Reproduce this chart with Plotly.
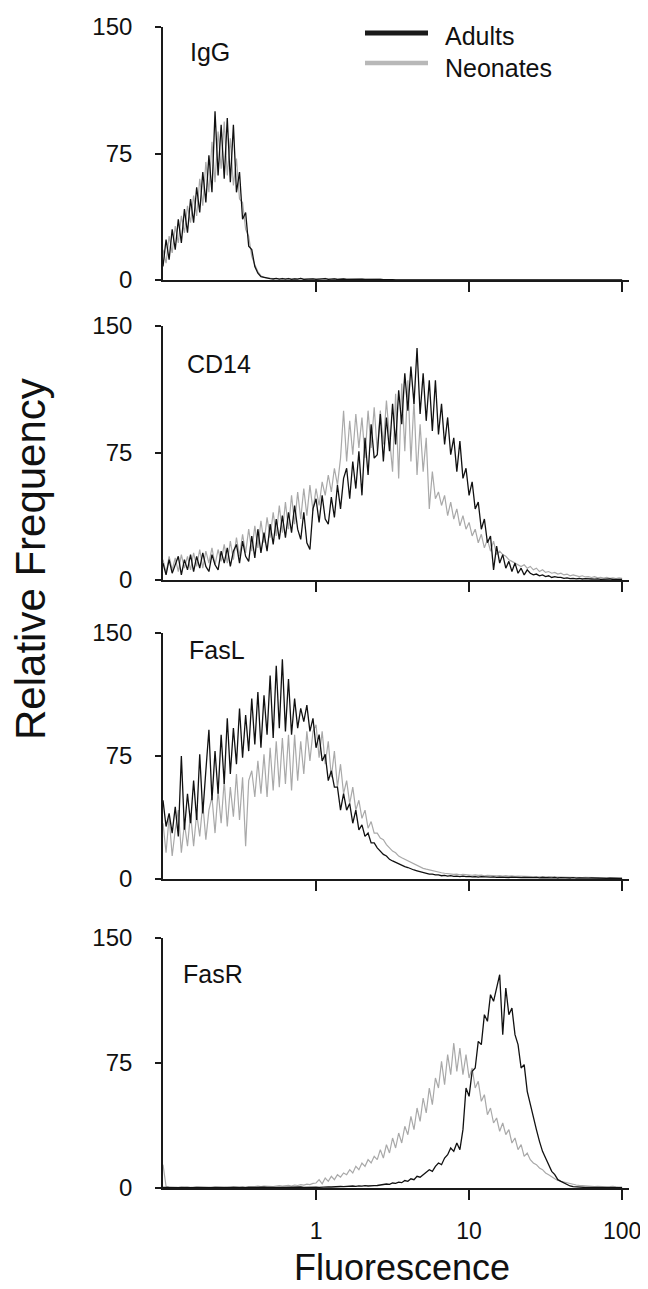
import numpy as np
import plotly.graph_objects as go

# ---------------- data ----------------
# channel grid (log10 of fluorescence), 151 channels from 0.1 to 100
log_channel = np.round(-1 + 0.02 * np.arange(151), 2)
fluorescence = 10 ** log_channel

panel_names = ["IgG", "CD14", "FasL", "FasR"]
series_names = ["Adults", "Neonates"]
y_tick_vals = [0, 75, 150]
y_tick_text = ["0", "75", "150"]
x_tick_vals = [1, 10, 100]
x_tick_text = ["1", "10", "100"]

igg_adults = [
    8, 24, 12, 30, 18, 36, 22, 42, 28, 48,
    34, 55, 40, 64, 46, 74, 52, 100, 62, 92,
    60, 96, 58, 92, 52, 64, 36, 40, 20, 18,
    8, 4, 2, 1.5, 1, 0.8, 0.6, 1, 0.5, 0.8,
    0.5, 0.8, 0.4, 0.7, 0.5, 0.9, 0.4, 0.6, 0.5, 0.7,
    0.4, 0.6, 0.5, 0.8, 0.4, 0.5, 0.7, 0.3, 0.5, 0.6,
    0.4, 0.5, 0.3, 0.6, 0.4, 0.5, 0.3, 0.4, 0.3, 0.5,
    0.3, 0.4, 0.2, 0.3, 0.2, 0.2, 0.1, 0.1, 0, 0,
    0, 0, 0, 0, 0, 0, 0, 0, 0, 0,
    0, 0, 0, 0, 0, 0, 0, 0, 0, 0,
    0, 0, 0, 0, 0, 0, 0, 0, 0, 0,
    0, 0, 0, 0, 0, 0, 0, 0, 0, 0,
    0, 0, 0, 0, 0, 0, 0, 0, 0, 0,
    0, 0, 0, 0, 0, 0, 0, 0, 0, 0,
    0, 0, 0, 0, 0, 0, 0, 0, 0, 0,
    0,
]
igg_neonates = [
    18, 10, 26, 16, 32, 22, 38, 28, 44, 34,
    50, 38, 60, 44, 70, 52, 82, 58, 88, 66,
    94, 62, 84, 56, 72, 48, 46, 30, 26, 14,
    9, 5, 2.5, 1.5, 1.2, 1, 0.8, 1, 0.6, 0.9,
    0.6, 0.9, 0.5, 0.8, 0.6, 1, 0.5, 0.7, 0.6, 0.8,
    0.5, 0.7, 0.6, 0.9, 0.5, 0.6, 0.8, 0.4, 0.6, 0.7,
    0.5, 0.6, 0.4, 0.7, 0.5, 0.6, 0.4, 0.5, 0.4, 0.6,
    0.4, 0.5, 0.3, 0.4, 0.3, 0.3, 0.2, 0.2, 0.1, 0.1,
    0, 0, 0, 0, 0, 0, 0, 0, 0, 0,
    0, 0, 0, 0, 0, 0, 0, 0, 0, 0,
    0, 0, 0, 0, 0, 0, 0, 0, 0, 0,
    0, 0, 0, 0, 0, 0, 0, 0, 0, 0,
    0, 0, 0, 0, 0, 0, 0, 0, 0, 0,
    0, 0, 0, 0, 0, 0, 0, 0, 0, 0,
    0, 0, 0, 0, 0, 0, 0, 0, 0, 0,
    0,
]
cd14_adults = [
    10, 3, 12, 4, 9, 14, 3, 12, 6, 15,
    5, 14, 7, 16, 8, 5, 15, 9, 6, 17,
    10, 19, 8, 17, 21, 10, 23, 14, 11, 26,
    13, 30, 16, 28, 17, 33, 21, 36, 24, 38,
    25, 40, 28, 44, 30, 24, 40, 22, 18, 42,
    48, 34, 50, 36, 33, 49, 37, 56, 42, 60,
    66, 48, 70, 54, 76, 50, 84, 62, 92, 72,
    74, 98, 70, 96, 76, 104, 80, 112, 92, 122,
    100, 126, 104, 137, 98, 122, 94, 118, 88, 118,
    86, 104, 80, 96, 74, 84, 64, 82, 60, 66,
    50, 58, 42, 46, 30, 36, 22, 26, 6, 20,
    10, 15, 7, 11, 5, 10, 4, 7, 3, 6,
    4, 3, 3.5, 2.5, 3, 2, 2.5, 1.5, 2, 1.5,
    1.5, 1, 1.2, 0.8, 1, 0.7, 0.9, 0.6, 0.8, 0.5,
    0.6, 0.5, 0.7, 0.4, 0.5, 0.4, 0.6, 0.3, 0.5, 0.4,
    0.3,
]
cd14_neonates = [
    12, 4, 14, 6, 13, 5, 15, 7, 14, 6,
    16, 8, 18, 7, 17, 10, 19, 9, 18, 11,
    21, 10, 23, 12, 25, 14, 27, 16, 30, 17,
    32, 19, 35, 22, 37, 25, 40, 26, 44, 28,
    46, 30, 50, 33, 52, 36, 54, 38, 56, 41,
    54, 44, 58, 50, 62, 52, 66, 56, 72, 100,
    70, 94, 74, 98, 78, 96, 72, 100, 78, 102,
    76, 100, 80, 106, 84, 64, 110, 60, 116, 76,
    118, 70, 106, 62, 92, 64, 84, 42, 64, 48,
    52, 44, 50, 38, 46, 36, 42, 32, 38, 30,
    34, 26, 30, 22, 27, 19, 24, 17, 23, 15,
    17, 15, 14, 12, 11, 10, 9, 8, 9, 7,
    8, 6, 7, 5, 6, 4.5, 5, 4, 4.5, 3.5,
    4, 3, 3.5, 2.5, 3, 2.5, 2, 2.5, 1.8, 2,
    1.5, 2, 1.3, 1.6, 1.2, 1.5, 1, 1.3, 0.9, 1.2,
    1,
]
fasl_adults = [
    48, 32, 40, 28, 44, 26, 75, 30, 52, 34,
    60, 36, 76, 40, 66, 91, 48, 78, 52, 88,
    58, 98, 64, 92, 70, 104, 74, 100, 78, 110,
    82, 114, 80, 112, 88, 124, 86, 130, 92, 134,
    90, 122, 88, 110, 92, 104, 96, 106, 90, 98,
    80, 88, 72, 76, 60, 66, 56, 56, 42, 52,
    42, 46, 34, 42, 30, 33, 26, 28, 22, 22,
    19, 17, 15, 14, 12, 11, 10, 9, 8, 7.5,
    7, 6, 5.5, 5, 4.5, 4, 3.5, 3, 3, 2.5,
    2.5, 2, 2.2, 1.8, 2, 1.6, 1.8, 1.5, 1.7, 1.4,
    1.6, 1.3, 1.5, 1.2, 1.4, 1.2, 1.3, 1.1, 1.3, 1,
    1.2, 1, 1.1, 0.9, 1.1, 0.9, 1, 0.8, 1, 0.8,
    0.9, 0.8, 1, 0.7, 0.9, 0.7, 0.8, 0.7, 0.9, 0.6,
    0.8, 0.6, 0.7, 0.6, 0.8, 0.5, 0.7, 0.5, 0.6, 0.5,
    0.6, 0.5, 0.6, 0.4, 0.5, 0.4, 0.5, 0.4, 0.5, 0.4,
    0.4,
]
fasl_neonates = [
    34, 16, 38, 14, 30, 42, 16, 34, 20, 40,
    20, 40, 26, 46, 24, 42, 50, 28, 54, 34,
    60, 32, 56, 38, 64, 36, 62, 20, 60, 66,
    50, 72, 52, 76, 50, 80, 54, 84, 56, 86,
    58, 88, 54, 88, 60, 84, 64, 90, 72, 90,
    94, 74, 90, 70, 84, 62, 78, 56, 70, 52,
    60, 46, 56, 42, 48, 37, 42, 31, 35, 28,
    28, 25, 24, 21, 19, 17, 16, 14, 13, 12,
    11, 10, 9, 8, 7.5, 6.5, 6, 5.5, 5, 4.5,
    4, 3.8, 3.5, 3.2, 3, 2.8, 3, 2.6, 2.8, 2.5,
    2.6, 2.3, 2.5, 2.2, 2.4, 2, 2.3, 2.1, 2.2, 1.9,
    2.1, 1.8, 2, 1.7, 1.9, 1.6, 1.8, 1.7, 1.6, 1.5,
    1.6, 1.4, 1.5, 1.3, 1.5, 1.2, 1.4, 1.2, 1.3, 1.1,
    1.2, 1.1, 1.2, 1, 1.1, 0.9, 1, 0.9, 1, 0.8,
    0.9, 0.8, 0.9, 0.7, 0.8, 0.7, 0.8, 0.6, 0.7, 0.6,
    0.6,
]
fasr_adults = [
    0.3, 0.2, 0.3, 0.2, 0.3, 0.2, 0.3, 0.2, 0.3, 0.2,
    0.2, 0.3, 0.2, 0.3, 0.2, 0.3, 0.2, 0.3, 0.2, 0.3,
    0.3, 0.2, 0.4, 0.3, 0.2, 0.4, 0.3, 0.2, 0.3, 0.4,
    0.3, 0.4, 0.3, 0.5, 0.3, 0.4, 0.3, 0.5, 0.4, 0.3,
    0.4, 0.5, 0.3, 0.5, 0.4, 0.6, 0.4, 0.5, 0.4, 0.6,
    0.5, 0.4, 0.6, 0.5, 0.7, 0.6, 0.8, 0.7, 0.9, 0.8,
    1, 0.9, 1.2, 1, 1.3, 1.1, 1.4, 1.2, 1.5, 1.4,
    1.5, 1.8, 2, 2.4, 2.2, 3, 2.8, 3.5, 3.2, 4.5,
    4, 5.5, 5, 7, 6.5, 8, 9, 11, 10, 13,
    15, 14, 18, 20, 24, 22, 27, 23, 35, 60,
    55, 70, 72, 88, 86, 104, 100, 116, 112, 120,
    128, 92, 120, 104, 108, 92, 86, 72, 74, 58,
    50, 44, 35, 28, 22, 18, 14, 10, 8, 5,
    4, 3, 2, 1.2, 0.8, 0.6, 0.5, 0.4, 0.3, 0.3,
    0.3, 0.2, 0.3, 0.2, 0.3, 0.2, 0.2, 0.3, 0.2, 0.2,
    0.2,
]
fasr_neonates = [
    14, 1, 0.5, 0.4, 0.5, 0.3, 0.5, 0.4, 0.6, 0.3,
    0.5, 0.4, 0.6, 0.3, 0.5, 0.4, 0.6, 0.5, 0.4, 0.6,
    0.5, 0.7, 0.4, 0.8, 0.6, 0.5, 0.9, 0.6, 0.8, 0.7,
    0.9, 1.2, 0.8, 1.1, 1, 1.3, 0.9, 1.2, 1.4, 1.1,
    1.3, 1.6, 1.2, 1.8, 1.5, 2, 1.7, 2.3, 2, 2.8,
    3, 5, 2.5, 6, 4, 7, 5, 8, 6.5, 9,
    8, 11, 9, 13, 11, 15, 13, 17, 15, 19,
    17, 23, 18, 26, 21, 30, 24, 33, 27, 37,
    32, 43, 35, 48, 40, 54, 45, 60, 50, 66,
    60, 76, 62, 80, 68, 87, 70, 84, 68, 80,
    66, 72, 60, 64, 52, 56, 44, 48, 39, 42,
    34, 39, 32, 35, 27, 30, 23, 26, 19, 21,
    17, 15, 14, 12, 11, 9, 8, 6.5, 5.5, 4.5,
    4, 3.5, 3, 2.5, 2.2, 1.8, 1.6, 1.4, 1.2, 1,
    1, 0.9, 1, 0.8, 0.9, 0.7, 0.8, 1, 0.7, 0.8,
    0.6,
]

adults = [igg_adults, cd14_adults, fasl_adults, fasr_adults]
neonates = [igg_neonates, cd14_neonates, fasl_neonates, fasr_neonates]
for arr in adults + neonates:
    assert len(arr) == len(fluorescence), len(arr)

# ---------------- layout helpers ----------------
# The page body has an 8px default margin; the figure is made smaller
# and window-pixel positions are shifted accordingly.
OFFX, OFFY = 8, 8
W, H = 648 - OFFX, 1289 - OFFY
FONT = "Liberation Sans, Arial, sans-serif"


def fx(px):
    return (px - OFFX) / W


def fy(px):
    return 1 - (px - OFFY) / H


# panel pixel extents in the window (top, bottom)
panel_px = [(27, 280), (326, 580), (633, 879), (938, 1188)]
x_dom = [fx(163), fx(629)]

ADULT_COLOR = "#111111"
NEO_COLOR = "#a9a9a9"

fig = go.Figure()
for k in range(4):
    sfx = "" if k == 0 else str(k + 1)
    fig.add_trace(go.Scatter(
        x=fluorescence, y=neonates[k], mode="lines", name=series_names[1],
        line=dict(color=NEO_COLOR, width=1.2), showlegend=False,
        xaxis="x" + sfx, yaxis="y" + sfx))
    fig.add_trace(go.Scatter(
        x=fluorescence, y=adults[k], mode="lines", name=series_names[0],
        line=dict(color=ADULT_COLOR, width=1.3), showlegend=False,
        xaxis="x" + sfx, yaxis="y" + sfx))

axis_common = dict(showline=True, linecolor="#1a1a1a", linewidth=1.6,
                   showgrid=False, zeroline=False, ticks="outside",
                   tickcolor="#1a1a1a", tickwidth=1.5, automargin=False)

layout = dict(
    width=W, height=H,
    margin=dict(l=0, r=0, t=0, b=0, autoexpand=False),
    paper_bgcolor="white", plot_bgcolor="white",
    font=dict(family=FONT, color="#111111"),
    showlegend=False,
)
for k in range(4):
    sfx = "" if k == 0 else str(k + 1)
    top, bot = panel_px[k]
    layout["xaxis" + sfx] = dict(
        axis_common, domain=x_dom, type="log", range=[-1, 2.045],
        anchor="y" + sfx, tickvals=x_tick_vals, ticktext=x_tick_text,
        showticklabels=(k == 3), ticklen=10, ticklabelstandoff=12,
        ticklabeloverflow="allow",
        tickfont=dict(size=23, family=FONT, color="#111111"))
    layout["yaxis" + sfx] = dict(
        axis_common, domain=[fy(bot), fy(top)], range=[0, 150],
        anchor="x" + sfx, tickvals=y_tick_vals, ticktext=y_tick_text,
        ticklen=6, ticklabelstandoff=18,
        tickfont=dict(size=24, family=FONT, color="#111111"))

annotations = []
label_pos = [(188, 50), (185, 362), (187, 648), (181, 972)]
for k, name in enumerate(panel_names):
    lx, ly = label_pos[k]
    annotations.append(dict(
        text=name, x=fx(lx), y=fy(ly + 2), xref="paper", yref="paper",
        xanchor="left", yanchor="middle", showarrow=False,
        font=dict(size=25, family=FONT, color="#111111")))

# legend (drawn as key lines + labels)
annotations.append(dict(text=series_names[0], x=fx(443), y=fy(36),
                        xref="paper", yref="paper", xanchor="left",
                        yanchor="middle", showarrow=False,
                        font=dict(size=25, family=FONT, color="#111111")))
annotations.append(dict(text=series_names[1], x=fx(443), y=fy(68),
                        xref="paper", yref="paper", xanchor="left",
                        yanchor="middle", showarrow=False,
                        font=dict(size=25, family=FONT, color="#111111")))
shapes = [
    dict(type="line", xref="paper", yref="paper", x0=fx(365), x1=fx(428),
         y0=fy(33), y1=fy(33), line=dict(color="#1a1a1a", width=5)),
    dict(type="line", xref="paper", yref="paper", x0=fx(365), x1=fx(428),
         y0=fy(63), y1=fy(63), line=dict(color="#b8b8b8", width=4.5)),
]

# axis titles
annotations.append(dict(text="Relative Frequency", x=fx(30), y=fy(559),
                        xref="paper", yref="paper", xanchor="center",
                        yanchor="middle", textangle=-90, showarrow=False,
                        font=dict(size=42, family=FONT, color="#111111")))
annotations.append(dict(text="Fluorescence", x=fx(402), y=fy(1267),
                        xref="paper", yref="paper", xanchor="center",
                        yanchor="middle", showarrow=False, borderpad=0,
                        font=dict(size=36, family=FONT, color="#111111")))

layout["annotations"] = annotations
layout["shapes"] = shapes
fig.update_layout(**layout)

fig.write_html("out.html")
